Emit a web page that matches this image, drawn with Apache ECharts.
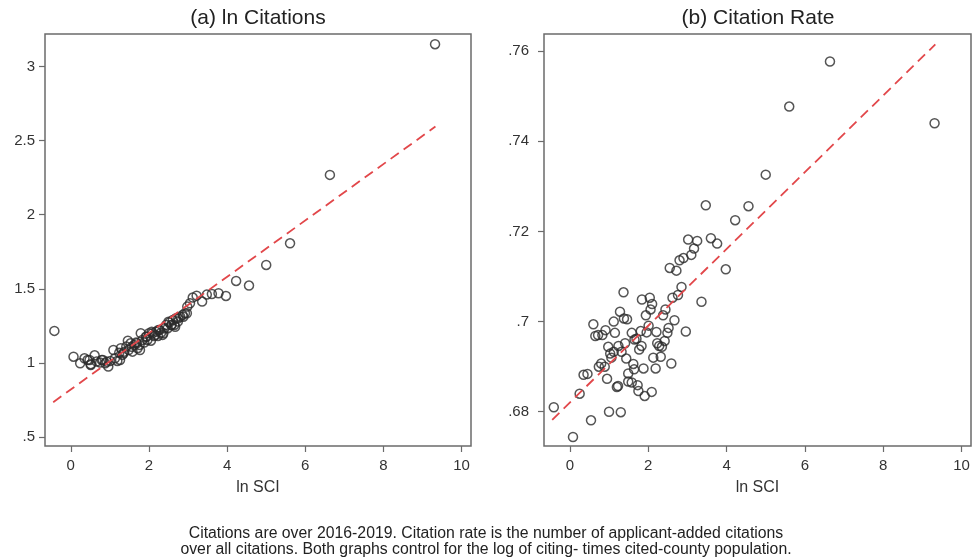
<!DOCTYPE html>
<html>
<head>
<meta charset="utf-8">
<script src="https://cdn.jsdelivr.net/npm/echarts@6/dist/echarts.min.js"></script>
<style>
html,body{margin:0;padding:0;background:#fff;}
#c{width:973px;height:558px;}
</style>
</head>
<body>
<div id="c"></div>
<script>
// ---------- data ----------
var titleA = '(a) ln Citations';
var titleB = '(b) Citation Rate';
var xName = 'ln SCI';
var caption1 = 'Citations are over 2016-2019. Citation rate is the number of applicant-added citations';
var caption2 = 'over all citations. Both graphs control for the log of citing- times cited-county population.';

var xTicks = [0, 2, 4, 6, 8, 10];
var yTicksA = [0.5, 1, 1.5, 2, 2.5, 3];
var yTicksB = [0.68, 0.70, 0.72, 0.74, 0.76];

// Panel (a): ln Citations vs ln SCI
var xA = [-0.42, 0.07, 0.24, 0.35, 0.43, 0.48, 0.51, 0.51, 0.61, 0.66, 0.75, 0.79, 0.82, 0.88, 0.92, 0.96,
  1.01, 1.09, 1.13, 1.19, 1.24, 1.26, 1.28, 1.32, 1.35, 1.37, 1.42, 1.46, 1.48, 1.53, 1.56, 1.58,
  1.62, 1.67, 1.69, 1.71, 1.76, 1.77, 1.79, 1.83, 1.88, 1.92, 1.94, 1.96, 2.00, 2.05, 2.07, 2.09,
  2.13, 2.16, 2.18, 2.23, 2.24, 2.27, 2.31, 2.35, 2.37, 2.40, 2.44, 2.48, 2.50, 2.52, 2.57, 2.58,
  2.61, 2.65, 2.67, 2.69, 2.74, 2.75, 2.80, 2.86, 2.88, 2.92, 2.97, 2.98, 3.05, 3.12, 3.22, 3.36,
  3.48, 3.61, 3.78, 3.97, 4.23, 4.56, 5.00, 5.61, 6.63, 9.32];
var yA = [1.216, 1.042, 0.997, 1.031, 1.020, 1.020, 0.991, 0.986, 1.051, 1.009, 1.002, 1.020, 1.020, 0.997, 1.008, 0.975,
  1.013, 1.087, 1.031, 1.013, 1.069, 1.020, 1.099, 1.054, 1.065, 1.076, 1.110, 1.150, 1.087, 1.132, 1.109, 1.076,
  1.121, 1.137, 1.132, 1.099, 1.121, 1.087, 1.200, 1.155, 1.137, 1.177, 1.177, 1.155, 1.200, 1.150, 1.211, 1.200,
  1.182, 1.188, 1.211, 1.182, 1.222, 1.222, 1.204, 1.189, 1.200, 1.234, 1.256, 1.234, 1.278, 1.272, 1.256, 1.256,
  1.290, 1.256, 1.244, 1.301, 1.279, 1.301, 1.312, 1.324, 1.312, 1.335, 1.335, 1.380, 1.402, 1.441, 1.454, 1.414,
  1.461, 1.465, 1.470, 1.452, 1.553, 1.522, 1.661, 1.807, 2.269, 3.151];

// Panel (b): Citation Rate vs ln SCI
var xB = [-0.41, 0.08, 0.25, 0.35, 0.45, 0.54, 0.60, 0.65, 0.72, 0.83, 0.91, 0.95, 0.98, 0.74, 0.80, 0.89,
  1.00, 1.03, 1.06, 1.12, 1.15, 1.12, 1.20, 1.23, 1.24, 1.28, 1.30, 1.32, 1.37, 1.38, 1.46, 1.41,
  1.44, 1.49, 1.49, 1.58, 1.58, 1.62, 1.64, 1.65, 1.70, 1.73, 1.75, 1.77, 1.83, 1.81, 1.84, 1.88,
  1.91, 1.94, 1.96, 2.01, 2.04, 2.06, 2.09, 2.10, 2.13, 2.19, 2.21, 2.23, 2.28, 2.32, 2.35, 2.38,
  2.42, 2.44, 2.49, 2.52, 2.55, 2.59, 2.62, 2.67, 2.72, 2.76, 2.80, 2.85, 2.90, 2.96, 3.02, 3.10,
  3.17, 3.25, 3.36, 3.47, 3.60, 3.76, 3.98, 4.22, 4.56, 5.00, 5.60, 6.64, 9.31];
var yB = [0.6810, 0.6744, 0.6840, 0.6882, 0.6884, 0.6781, 0.6994, 0.6968, 0.6970, 0.6970, 0.6981, 0.6873, 0.6944, 0.6900, 0.6907, 0.6900,
  0.6800, 0.6929, 0.6920, 0.7000, 0.6975, 0.6933, 0.6855, 0.6857, 0.6946, 0.7022, 0.6799, 0.6933, 0.7065, 0.7007, 0.7005, 0.6952,
  0.6918, 0.6885, 0.6867, 0.6865, 0.6975, 0.6906, 0.6894, 0.6960, 0.6962, 0.6859, 0.6846, 0.6938, 0.6946, 0.6979, 0.7049, 0.6896,
  0.6835, 0.7014, 0.6976, 0.6991, 0.7053, 0.7027, 0.6844, 0.7039, 0.6920, 0.6896, 0.6977, 0.6952, 0.6946, 0.6922, 0.6944, 0.7014,
  0.6957, 0.7027, 0.6975, 0.6986, 0.7119, 0.6907, 0.7053, 0.7003, 0.7113, 0.7059, 0.7136, 0.7077, 0.7141, 0.6978, 0.7182, 0.7148,
  0.7162, 0.7179, 0.7044, 0.7258, 0.7185, 0.7173, 0.7116, 0.7225, 0.7256, 0.7326, 0.7477, 0.7577, 0.7440];

// fitted lines (endpoints)
var fitX = [-0.45, 9.33];
var fitA = [0.735, 2.595];
var fitB = [0.6782, 0.7615];

// ---------- build ----------
function zip(xs, ys) { return xs.map(function (x, i) { return [x, ys[i]]; }); }
function fmtY(v) { return String(+v.toFixed(4)).replace(/^0\./, '.'); }

var frameColor = '#6b6b6b';
var labelColor = '#333';
var fontFam = '"Liberation Sans", Arial, sans-serif';

function xAxisCfg(idx) {
  return {
    gridIndex: idx, type: 'value', min: -0.66, max: 10.24,
    name: xName, nameLocation: 'middle', nameGap: 34,
    nameTextStyle: { fontSize: 16, color: '#333', fontFamily: fontFam },
    axisLine: { show: false, onZero: false },
    splitLine: { show: false },
    axisTick: { show: true, inside: false, length: 6, customValues: xTicks, lineStyle: { color: frameColor, width: 1.2 } },
    axisLabel: { customValues: xTicks, fontSize: 15, color: labelColor, margin: 12, fontFamily: fontFam }
  };
}
function yAxisCfg(idx, min, max, ticks, margin) {
  return {
    gridIndex: idx, type: 'value', min: min, max: max,
    axisLine: { show: false, onZero: false },
    splitLine: { show: false },
    axisTick: { show: true, inside: false, length: 6, customValues: ticks, lineStyle: { color: frameColor, width: 1.2 } },
    axisLabel: { customValues: ticks, fontSize: 15, color: labelColor, margin: margin, fontFamily: fontFam, formatter: fmtY }
  };
}

var scatterStyle = { color: 'rgba(0,0,0,0)', borderColor: '#2a2a2a', borderWidth: 1.5 };
var dashStyle = { color: '#e2474a', width: 1.8, type: [10, 6] };

var option = {
  backgroundColor: '#fff',
  animation: false,
  grid: [
    { left: 45, top: 34, width: 426, height: 412, show: true, borderColor: frameColor, borderWidth: 1.5, backgroundColor: 'transparent' },
    { left: 544, top: 34, width: 427, height: 412, show: true, borderColor: frameColor, borderWidth: 1.5, backgroundColor: 'transparent' }
  ],
  xAxis: [xAxisCfg(0), xAxisCfg(1)],
  yAxis: [
    yAxisCfg(0, 0.439, 3.22, yTicksA, 10),
    yAxisCfg(1, 0.6724, 0.7638, yTicksB, 15)
  ],
  series: [
    { type: 'scatter', xAxisIndex: 0, yAxisIndex: 0, symbol: 'circle', symbolSize: 9, itemStyle: scatterStyle, data: zip(xA, yA) },
    { type: 'line', xAxisIndex: 0, yAxisIndex: 0, symbol: 'none', lineStyle: dashStyle, data: zip(fitX, fitA), z: 3 },
    { type: 'scatter', xAxisIndex: 1, yAxisIndex: 1, symbol: 'circle', symbolSize: 9, itemStyle: scatterStyle, data: zip(xB, yB) },
    { type: 'line', xAxisIndex: 1, yAxisIndex: 1, symbol: 'none', lineStyle: dashStyle, data: zip(fitX, fitB), z: 3 }
  ],
  graphic: [
    { type: 'text', x: 258, y: 18, style: { text: titleA, fontSize: 21, fill: '#222', fontFamily: fontFam, align: 'center', verticalAlign: 'middle' } },
    { type: 'text', x: 758, y: 18, style: { text: titleB, fontSize: 21, fill: '#222', fontFamily: fontFam, align: 'center', verticalAlign: 'middle' } },
    { type: 'text', x: 486, y: 534, style: { text: caption1, fontSize: 15.8, fill: '#222', fontFamily: fontFam, align: 'center', verticalAlign: 'middle' } },
    { type: 'text', x: 486, y: 550, style: { text: caption2, fontSize: 15.8, fill: '#222', fontFamily: fontFam, align: 'center', verticalAlign: 'middle' } }
  ]
};

var chart = echarts.init(document.getElementById('c'), null, { renderer: 'canvas' });
chart.setOption(option);
</script>
</body>
</html>
